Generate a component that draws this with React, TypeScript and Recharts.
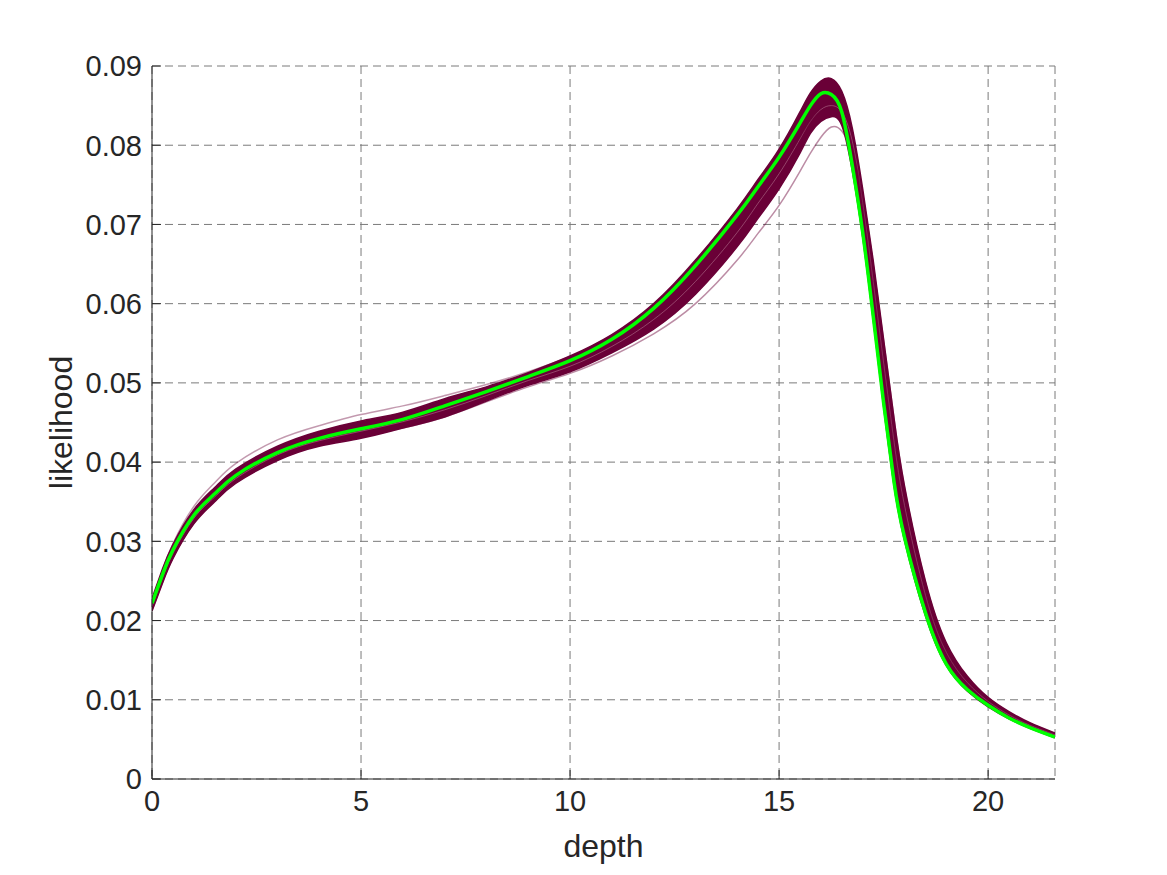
import React from 'react';
import { ComposedChart, Area, Line, XAxis, YAxis, CartesianGrid } from 'recharts';

const depth = [0, 0.25, 0.5, 1, 1.5, 2, 3, 4, 5, 6, 7, 8, 9, 10, 11, 12, 13, 14, 14.5, 15, 15.5, 15.75, 16, 16.25, 16.5, 16.75, 17, 17.25, 17.5, 17.75, 18, 18.5, 19, 19.5, 20, 20.5, 21, 21.6];

const meanLikelihood = [0.0222, 0.0258, 0.0289, 0.0333, 0.036, 0.0383, 0.0412, 0.043, 0.0442, 0.0454, 0.0471, 0.0489, 0.0508, 0.0528, 0.0555, 0.0594, 0.0648, 0.0712, 0.0748, 0.0785, 0.0828, 0.085, 0.0865, 0.0864, 0.0842, 0.0775, 0.069, 0.0585, 0.0475, 0.0375, 0.0305, 0.021, 0.0145, 0.0113, 0.0093, 0.0077, 0.0065, 0.0053];

const bandHigh = [0.0228, 0.0265, 0.0296, 0.034, 0.0368, 0.0391, 0.042, 0.0439, 0.0452, 0.0463, 0.048, 0.0495, 0.0513, 0.0534, 0.0561, 0.06, 0.0655, 0.072, 0.0757, 0.0795, 0.0842, 0.0866, 0.0881, 0.0884, 0.0868, 0.0822, 0.0745, 0.0655, 0.0555, 0.0455, 0.037, 0.025, 0.0172, 0.013, 0.0103, 0.0085, 0.0071, 0.0058];

const bandLow = [0.0212, 0.0247, 0.0278, 0.0322, 0.035, 0.0373, 0.0402, 0.042, 0.043, 0.0443, 0.0457, 0.0477, 0.0497, 0.0514, 0.0538, 0.0568, 0.0612, 0.0672, 0.0708, 0.0745, 0.079, 0.0815, 0.083, 0.0836, 0.0825, 0.0768, 0.0684, 0.058, 0.047, 0.037, 0.0301, 0.0206, 0.0143, 0.0111, 0.0091, 0.0076, 0.0064, 0.0052];

const innerSample = [0.0218, 0.0254, 0.0285, 0.0329, 0.0356, 0.0379, 0.0409, 0.0427, 0.0439, 0.0451, 0.0466, 0.0484, 0.0503, 0.0521, 0.0546, 0.058, 0.0628, 0.069, 0.0727, 0.0764, 0.0808, 0.083, 0.0845, 0.085, 0.0842, 0.0805, 0.0728, 0.0628, 0.0525, 0.0425, 0.0345, 0.0232, 0.016, 0.0122, 0.0098, 0.0081, 0.0068, 0.0056];

const faintLow = [0.0213, 0.0248, 0.0279, 0.0323, 0.0351, 0.0374, 0.0403, 0.0421, 0.0432, 0.0443, 0.0457, 0.0476, 0.0495, 0.0512, 0.0534, 0.0562, 0.06, 0.0655, 0.0689, 0.0724, 0.0767, 0.079, 0.081, 0.0823, 0.0818, 0.079, 0.0735, 0.065, 0.0553, 0.0455, 0.0368, 0.0248, 0.017, 0.0128, 0.0102, 0.0084, 0.007, 0.0057];

const faintHigh = [0.0224, 0.0263, 0.0297, 0.0344, 0.0374, 0.0398, 0.0428, 0.0446, 0.046, 0.0471, 0.0484, 0.0498, 0.0514, 0.0533, 0.0555, 0.0586, 0.0632, 0.0694, 0.073, 0.0768, 0.081, 0.083, 0.0843, 0.0846, 0.0836, 0.08, 0.0726, 0.0625, 0.052, 0.042, 0.034, 0.023, 0.016, 0.0123, 0.0099, 0.0082, 0.0069, 0.0057];

const xTicks = [0, 5, 10, 15, 20];
const yTicks = [0, 0.01, 0.02, 0.03, 0.04, 0.05, 0.06, 0.07, 0.08, 0.09];

const data = depth.map((x, i) => ({
  x,
  band: [bandLow[i], bandHigh[i]],
  mean: meanLikelihood[i],
  inner: innerSample[i],
  faintLow: faintLow[i],
  faintHigh: faintHigh[i],
}));

const MAROON = '#6a0037';
const FONT = '"Liberation Sans", Arial, Helvetica, sans-serif';
const AXIS = '#262626';
const CURVE = 'natural';

export default function App() {
  return (
    <div style={{ position: 'absolute', left: 0, top: 0, width: 1167, height: 875, background: '#fff' }}>
      <ComposedChart
        width={1167}
        height={875}
        data={data}
        margin={{ top: 66, right: 112, left: 0, bottom: 0 }}
      >
        <CartesianGrid stroke="#7a7a7a" strokeDasharray="8 5" strokeWidth={1} />
        <XAxis
          dataKey="x"
          type="number"
          domain={[0, 21.6]}
          ticks={xTicks}
          allowDataOverflow
          height={96}
          stroke={AXIS}
          tickSize={-9}
          tickMargin={20}
          tick={{ fill: AXIS, fontSize: 29, fontFamily: FONT }}
          label={{ value: 'depth', position: 'insideBottom', offset: 18, fill: AXIS, fontSize: 32, fontFamily: FONT }}
        />
        <YAxis
          type="number"
          domain={[0, 0.09]}
          ticks={yTicks}
          allowDataOverflow
          width={152}
          stroke={AXIS}
          tickSize={-9}
          tickMargin={19}
          tickFormatter={(v: number) => (v === 0 ? '0' : v.toFixed(2))}
          tick={{ fill: AXIS, fontSize: 29, fontFamily: FONT }}
          label={{ value: 'likelihood', angle: -90, position: 'insideLeft', offset: 61, fill: AXIS, fontSize: 32, fontFamily: FONT, style: { textAnchor: 'middle' } }}
        />
        <Area
          type={CURVE}
          dataKey="band"
          fill={MAROON}
          fillOpacity={1}
          stroke={MAROON}
          strokeWidth={1.5}
          isAnimationActive={false}
          dot={false}
          activeDot={false}
        />
        <Line type={CURVE} dataKey="inner" stroke="#b0708c" strokeOpacity={0.6} strokeWidth={1} dot={false} isAnimationActive={false} />
        <Line type={CURVE} dataKey="faintLow" stroke={MAROON} strokeOpacity={0.45} strokeWidth={1.5} dot={false} isAnimationActive={false} />
        <Line type={CURVE} dataKey="faintHigh" stroke={MAROON} strokeOpacity={0.4} strokeWidth={1.5} dot={false} isAnimationActive={false} />
        <Line type={CURVE} dataKey="mean" stroke="#00ff00" strokeWidth={3.5} dot={false} isAnimationActive={false} />
      </ComposedChart>
    </div>
  );
}
